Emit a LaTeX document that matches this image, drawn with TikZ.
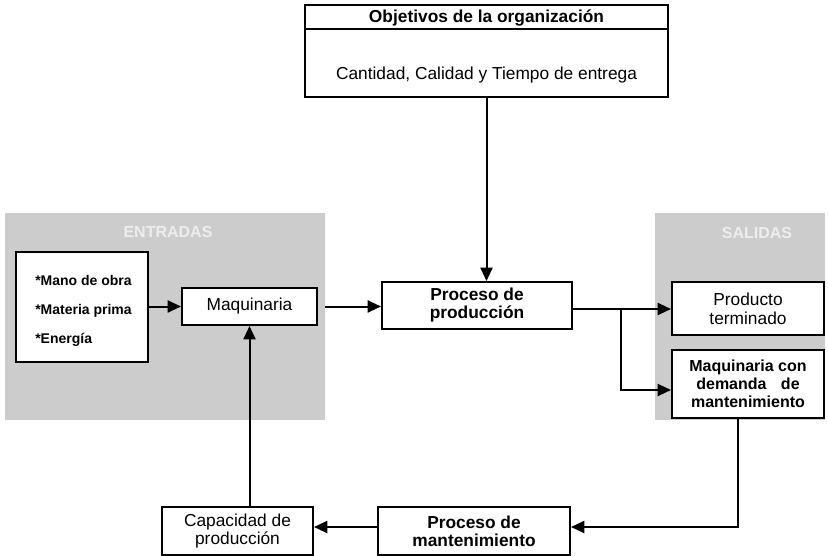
\documentclass[tikz,border=0pt]{standalone}
\usepackage{fontspec}
\setmainfont{Liberation Sans}
\usetikzlibrary{arrows.meta}
\begin{document}
\begin{tikzpicture}[x=0.75pt,y=-0.75pt,
  box/.style={draw=black, line width=1.5pt, fill=white, inner sep=2pt, align=center},
  lbl/.style={font=\fontsize{13pt}{14pt}\selectfont},
  blbl/.style={font=\fontsize{13pt}{13.5pt}\selectfont\bfseries},
  link/.style={line width=1.5pt, -{Triangle[length=10pt,width=9pt]}},
  shade/.style={fill=black!20, draw=none, inner sep=0pt},
  ghost/.style={text=black!7, font=\fontsize{12pt}{14pt}\selectfont\bfseries}
]
\useasboundingbox (0,0) rectangle (828,556);

% shaded input / output zones
\node[shade, minimum width=240pt, minimum height=155.25pt] (zonaIn) at (165,316.5) {};
\node[shade, minimum width=127.5pt, minimum height=155.25pt] (zonaOut) at (740,316.5) {};
\node[ghost] (entr) at (168,232) {ENTRADAS};
\node[ghost] (sal) at (757,233) {SALIDAS};

% organisation goals
\node[box, minimum width=272.25pt, minimum height=69pt] (obj) at (486.5,51) {};
\coordinate (hl) at (486.5,29);
\draw[line width=1.5pt] (obj.west |- hl) -- (obj.east |- hl);
\node[blbl] (objt) at (486.5,17.5) {Objetivos de la organización};
\node[lbl] (objc) at (486.5,75) {Cantidad, Calidad y Tiempo de entrega};

% inputs
\node[box, minimum width=99pt, minimum height=82.5pt] (insumos) at (82,307) {};
\node[anchor=west, align=left, inner sep=0pt,
      font=\fontsize{10.5pt}{21.75pt}\selectfont\bfseries] (insumostxt) at (35,311)
      {*Mano de obra\\*Materia prima\\*Energía};

\node[box, lbl, minimum width=101.25pt, minimum height=27.75pt] (maq) at (249.5,306.5) {Maquinaria};
\node[box, blbl, minimum width=142.5pt, minimum height=35.25pt] (prod) at (477,305.5) {Proceso de\\producción};

% outputs
\node[box, lbl, minimum width=114pt, minimum height=39.75pt] (prodterm) at (748,308.5) {Producto\\terminado};
\node[box, minimum width=114pt, minimum height=51pt,
      font=\fontsize{12pt}{13.5pt}\selectfont\bfseries] (maqdem) at (748,384)
      {Maquinaria con\\demanda\hspace{0.9em}de\\mantenimiento};

% maintenance loop
\node[box, blbl, minimum width=144pt, minimum height=36pt] (mant) at (474,531) {Proceso de\\mantenimiento};
\node[box, lbl, minimum width=113.25pt, minimum height=36pt] (cap) at (237.5,531) {Capacidad de\\producción};

% connectors
\draw[link] (obj.south) -- (obj.south |- prod.north);
\draw[link] (insumos.east |- maq.west) -- (maq.west);
\draw[link] (zonaIn.east |- maq.east) -- (maq.east -| prod.west);

\coordinate (split) at (621,309);
\coordinate (demin) at (621,390);
\draw[link] (prod.east |- split) -- (prodterm.west |- split);
\draw[link] (split) -- (demin) -- (maqdem.west |- demin);

\coordinate (ret) at (738,527);
\draw[link] (maqdem.south -| ret) -- (ret) -- (mant.east |- ret);
\draw[link] (mant.west |- ret) -- (cap.east |- ret);
\draw[link] (maq.south |- cap.north) -- (maq.south);
\end{tikzpicture}
\end{document}
